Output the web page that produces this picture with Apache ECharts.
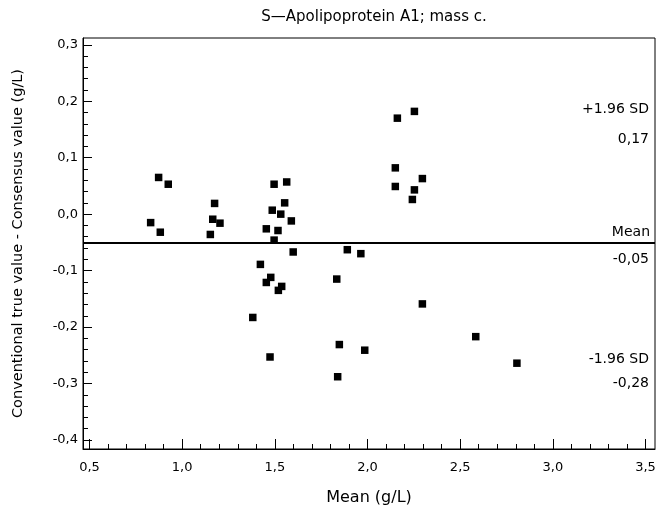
<!DOCTYPE html>
<html>
<head>
<meta charset="utf-8">
<script src="https://cdn.jsdelivr.net/npm/echarts@6/dist/echarts.min.js"></script>
<style>
html,body{margin:0;padding:0;background:#fff;}
#chart{width:664px;height:513px;}
</style>
</head>
<body>
<div id="chart"></div>
<script>
// ---- data ----
const meanX = [
  0.830, 0.873, 0.882, 0.925,
  1.152, 1.165, 1.175, 1.204,
  1.381, 1.422, 1.454, 1.454, 1.478, 1.474, 1.486, 1.496, 1.496,
  1.517, 1.519, 1.532, 1.537, 1.553, 1.564, 1.589, 1.599,
  1.834, 1.839, 1.848, 1.891, 1.964, 1.985,
  2.150, 2.150, 2.161, 2.242, 2.253, 2.253, 2.296, 2.296,
  2.584, 2.806
];
const diffY = [
  -0.015, 0.065, -0.032, 0.053,
  -0.036, -0.009, 0.019, -0.016,
  -0.183, -0.089, -0.026, -0.121, -0.112, -0.253, 0.007, 0.053, -0.046,
  -0.029, -0.135, 0.000, -0.128, 0.020, 0.057, -0.012, -0.067,
  -0.115, -0.288, -0.231, -0.063, -0.070, -0.241,
  0.082, 0.049, 0.170, 0.026, 0.182, 0.043, 0.063, -0.159,
  -0.217, -0.264
];
const xMajorTicks = [0.5, 1.0, 1.5, 2.0, 2.5, 3.0, 3.5];
const xMinorTicks = [0.6, 0.7, 0.8, 0.9, 1.1, 1.2, 1.3, 1.4, 1.6, 1.7, 1.8, 1.9,
  2.1, 2.2, 2.3, 2.4, 2.6, 2.7, 2.8, 2.9, 3.1, 3.2, 3.3, 3.4];
const yMajorTicks = [-0.4, -0.3, -0.2, -0.1, 0.0, 0.1, 0.2, 0.3];
const yMinorTicks = [-0.38, -0.36, -0.34, -0.32, -0.28, -0.26, -0.24, -0.22,
  -0.18, -0.16, -0.14, -0.12, -0.08, -0.06, -0.04, -0.02,
  0.02, 0.04, 0.06, 0.08, 0.12, 0.14, 0.16, 0.18, 0.22, 0.24, 0.26, 0.28];
const meanValue = -0.05;
const upperLimit = 0.17;
const lowerLimit = -0.28;
const titleText = 'S\u2014Apolipoprotein A1; mass c.';
const xTitle = 'Mean (g/L)';
const yTitle = 'Conventional true value - Consensus value (g/L)';

// ---- chart ----
const FONT = '"DejaVu Sans", sans-serif';
const comma = (v, d) => v.toFixed(d).replace('.', ',');
const X_MIN = 0.465, X_MAX = 3.551, Y_MIN = -0.416, Y_MAX = 0.312;

const chart = echarts.init(document.getElementById('chart'), null, {renderer: 'canvas'});
const txt = {color: '#000', fontFamily: FONT, fontSize: 14};

function invisibleLine(v, pos, text, dist) {
  return {yAxis: v, lineStyle: {color: 'rgba(0,0,0,0)', width: 1},
    label: {show: true, position: pos, formatter: text, distance: dist, ...txt}};
}

chart.setOption({
  animation: false,
  backgroundColor: '#fff',
  title: {
    text: titleText, left: 369, top: 5, textAlign: 'center',
    textStyle: {...txt, fontWeight: 'normal', fontSize: 15}
  },
  grid: {left: 83, right: 9, top: 38, bottom: 64, show: true, borderColor: '#000', borderWidth: 1, backgroundColor: 'transparent'},
  xAxis: [
    {
      type: 'value', min: X_MIN, max: X_MAX, position: 'bottom',
      name: xTitle, nameLocation: 'middle', nameGap: 41, nameTextStyle: {...txt, fontSize: 16},
      axisLine: {show: true, onZero: false, lineStyle: {color: '#000', width: 1}},
      axisTick: {show: true, inside: true, length: 10, customValues: xMajorTicks, lineStyle: {color: '#000'}},
      axisLabel: {show: true, customValues: xMajorTicks, margin: 12, formatter: v => comma(v, 1), ...txt, fontSize: 13},
      splitLine: {show: false}
    },
    {
      type: 'value', min: X_MIN, max: X_MAX, position: 'bottom',
      axisLine: {show: false, onZero: false},
      axisTick: {show: true, inside: true, length: 5, customValues: xMinorTicks, lineStyle: {color: '#000', width: 1}},
      axisLabel: {show: false},
      splitLine: {show: false}
    }
  ],
  yAxis: [
    {
      type: 'value', min: Y_MIN, max: Y_MAX, position: 'left',
      name: yTitle, nameLocation: 'middle', nameGap: 57, nameRotate: 90, nameTextStyle: {...txt, fontSize: 14.5},
      axisLine: {show: true, onZero: false, lineStyle: {color: '#000', width: 1}},
      axisTick: {show: true, inside: true, length: 9, customValues: yMajorTicks, lineStyle: {color: '#000'}},
      axisLabel: {show: true, customValues: yMajorTicks, margin: 5, formatter: v => comma(v, 1), ...txt, fontSize: 13},
      splitLine: {show: false}
    },
    {
      type: 'value', min: Y_MIN, max: Y_MAX, position: 'left',
      axisLine: {show: false, onZero: false},
      axisTick: {show: true, inside: true, length: 5, customValues: yMinorTicks, lineStyle: {color: '#000', width: 1}},
      axisLabel: {show: false},
      splitLine: {show: false}
    }
  ],
  series: [{
    type: 'scatter',
    xAxisIndex: 0, yAxisIndex: 0,
    symbol: 'rect', symbolSize: 7.5,
    itemStyle: {color: '#000', opacity: 1},
    emphasis: {disabled: true},
    data: meanX.map((x, i) => [x, diffY[i]]),
    markLine: {
      silent: true, symbol: 'none', animation: false,
      data: [
        {yAxis: meanValue, lineStyle: {color: '#000', width: 2, type: 'solid'},
          label: {show: true, position: 'insideEndTop', formatter: 'Mean', distance: [5, 3], ...txt}},
        invisibleLine(meanValue, 'insideEndBottom', comma(meanValue, 2), [6, 10]),
        invisibleLine(upperLimit, 'insideEndTop', '+1.96 SD', [6, 2]),
        invisibleLine(upperLimit, 'insideEndBottom', comma(upperLimit, 2), [6, 14]),
        invisibleLine(lowerLimit, 'insideEndTop', '-1.96 SD', [6, 6]),
        invisibleLine(lowerLimit, 'insideEndBottom', comma(lowerLimit, 2), [6, 4])
      ]
    }
  }]
});
</script>
</body>
</html>
